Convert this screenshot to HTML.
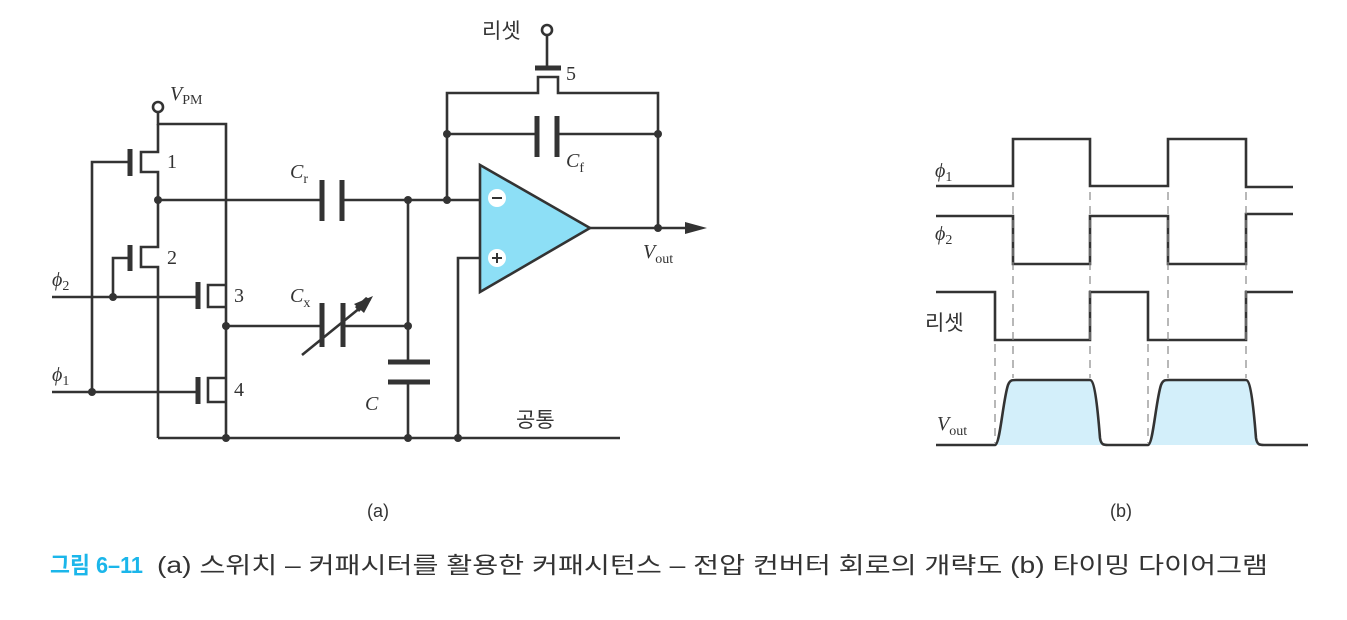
<!DOCTYPE html>
<html><head><meta charset="utf-8"><style>
html,body{margin:0;padding:0;background:#fff;width:1347px;height:620px;overflow:hidden}
svg{display:block}
.s{font-family:"Liberation Serif",serif;fill:#333}
.k{font-family:"Liberation Sans","Noto Sans CJK KR",sans-serif;fill:#333}
</style></head><body>
<svg width="1347" height="620" viewBox="0 0 1347 620" xmlns="http://www.w3.org/2000/svg">
<g stroke="#333" stroke-width="2.6" fill="none" stroke-linejoin="miter">
<circle cx="158" cy="107" r="5" fill="#fff"/>
<polyline points="158,112 158,124 226,124 226,438"/>
<polyline points="158,124 158,152 141,152 141,172 158,172 158,247 141,247 141,267 158,267 158,438"/>
<line x1="130" y1="149" x2="130" y2="176" stroke-width="5"/>
<polyline points="130,162 92,162 92,392"/>
<line x1="130" y1="245" x2="130" y2="271" stroke-width="5"/>
<polyline points="130,258 113,258 113,297"/>
<polyline points="226,285 208,285 208,307 226,307"/>
<line x1="198" y1="282" x2="198" y2="309" stroke-width="5"/>
<line x1="52" y1="297" x2="198" y2="297"/>
<polyline points="226,378 208,378 208,402 226,402"/>
<line x1="198" y1="377" x2="198" y2="404" stroke-width="5"/>
<line x1="52" y1="392" x2="198" y2="392"/>
<line x1="158" y1="200" x2="321" y2="200"/>
<line x1="342" y1="200" x2="480" y2="200"/>
<line x1="322" y1="180" x2="322" y2="221" stroke-width="5"/>
<line x1="342" y1="180" x2="342" y2="221" stroke-width="5"/>
<line x1="226" y1="326" x2="322" y2="326"/>
<line x1="343" y1="326" x2="408" y2="326"/>
<line x1="322" y1="303" x2="322" y2="347" stroke-width="5"/>
<line x1="343" y1="303" x2="343" y2="347" stroke-width="5"/>
<line x1="302" y1="355" x2="366" y2="303"/>
<line x1="408" y1="200" x2="408" y2="361"/>
<line x1="408" y1="382" x2="408" y2="438"/>
<line x1="388" y1="362" x2="430" y2="362" stroke-width="5"/>
<line x1="388" y1="382" x2="430" y2="382" stroke-width="5"/>
<line x1="158" y1="438" x2="620" y2="438"/>
<polyline points="458,438 458,258 480,258"/>
<polyline points="447,200 447,93 538,93 538,77 558,77 558,93 658,93 658,228"/>
<line x1="535" y1="68" x2="561" y2="68" stroke-width="5"/>
<line x1="547" y1="35" x2="547" y2="66"/>
<circle cx="547" cy="30" r="5" fill="#fff"/>
<line x1="447" y1="134" x2="537" y2="134"/>
<line x1="558" y1="134" x2="658" y2="134"/>
<line x1="537" y1="116" x2="537" y2="157" stroke-width="5"/>
<line x1="557" y1="116" x2="557" y2="157" stroke-width="5"/>
<line x1="590" y1="228" x2="690" y2="228"/>
<polyline points="936,186 1013,186 1013,139 1090,139 1090,186 1168,186 1168,139 1246,139 1246,187 1293,187"/>
<polyline points="936,216 1013,216 1013,264 1090,264 1090,216 1168,216 1168,264 1246,264 1246,214 1293,214"/>
<polyline points="936,292 995,292 995,340 1090,340 1090,292 1148,292 1148,340 1246,340 1246,292 1293,292"/>
</g>
<polygon points="366,297 371,300 359,312 355,307" fill="#333"/>
<polygon points="373,296 354,304 364,313" fill="#333"/>
<polygon points="685,222 707,228 685,234" fill="#333"/>
<polygon points="480,165 590,228 480,292" fill="#8ddff6" stroke="#333" stroke-width="2.6"/>
<circle cx="497" cy="198" r="9" fill="#fff"/>
<line x1="492" y1="198" x2="502" y2="198" stroke="#333" stroke-width="2"/>
<circle cx="497" cy="258" r="9" fill="#fff"/>
<line x1="492" y1="258" x2="502" y2="258" stroke="#333" stroke-width="2"/>
<line x1="497" y1="253" x2="497" y2="263" stroke="#333" stroke-width="2"/>
<g fill="#333">
<circle cx="158" cy="200" r="4"/><circle cx="113" cy="297" r="4"/><circle cx="92" cy="392" r="4"/>
<circle cx="226" cy="326" r="4"/><circle cx="408" cy="326" r="4"/><circle cx="408" cy="200" r="4"/>
<circle cx="447" cy="200" r="4"/><circle cx="447" cy="134" r="4"/><circle cx="658" cy="134" r="4"/>
<circle cx="658" cy="228" r="4"/><circle cx="226" cy="438" r="4"/><circle cx="408" cy="438" r="4"/><circle cx="458" cy="438" r="4"/>
</g>
<path d="M995,445 C1000,445 1003,400 1008,385 C1010,380 1012,380 1016,380 L1090,380 C1094,380 1097,400 1100,438 C1101,445 1104,445 1108,445 L1148,445 C1153,445 1156,400 1161,385 C1163,380 1165,380 1169,380 L1246,380 C1250,380 1253,400 1256,438 C1257,445 1260,445 1264,445 Z" fill="#d3effa"/>
<path d="M936,445 L995,445 C1000,445 1003,400 1008,385 C1010,380 1012,380 1016,380 L1090,380 C1094,380 1097,400 1100,438 C1101,445 1104,445 1108,445 L1148,445 C1153,445 1156,400 1161,385 C1163,380 1165,380 1169,380 L1246,380 C1250,380 1253,400 1256,438 C1257,445 1260,445 1264,445 L1308,445" fill="none" stroke="#333" stroke-width="2.6"/>
<g stroke="#888" stroke-width="1.2" stroke-dasharray="8,6" fill="none">
<line x1="1013" y1="192" x2="1013" y2="378"/><line x1="1090" y1="192" x2="1090" y2="378"/>
<line x1="1168" y1="192" x2="1168" y2="378"/><line x1="1246" y1="192" x2="1246" y2="378"/>
<line x1="995" y1="344" x2="995" y2="443"/><line x1="1148" y1="344" x2="1148" y2="443"/>
</g>
<g class="s" font-size="20">
<text x="170" y="100" font-style="italic">V<tspan font-style="normal" font-size="14" dy="4">PM</tspan></text>
<text x="167" y="168">1</text><text x="167" y="264">2</text><text x="234" y="302">3</text><text x="234" y="396">4</text>
<text x="290" y="178" font-style="italic">C<tspan font-style="normal" font-size="14" dy="5">r</tspan></text>
<text x="290" y="302" font-style="italic">C<tspan font-style="normal" font-size="14" dy="5">x</tspan></text>
<text x="365" y="410" font-style="italic">C</text>
<text x="566" y="80">5</text>
<text x="566" y="167" font-style="italic">C<tspan font-style="normal" font-size="14" dy="5">f</tspan></text>
<text x="643" y="258" font-style="italic">V<tspan font-style="normal" font-size="14" dy="5">out</tspan></text>
<text x="52" y="286" font-style="italic">ϕ<tspan font-style="normal" font-size="14" dy="4">2</tspan></text>
<text x="52" y="381" font-style="italic">ϕ<tspan font-style="normal" font-size="14" dy="4">1</tspan></text>
<text x="935" y="177" font-style="italic">ϕ<tspan font-style="normal" font-size="14" dy="4">1</tspan></text>
<text x="935" y="240" font-style="italic">ϕ<tspan font-style="normal" font-size="14" dy="4">2</tspan></text>
<text x="937" y="430" font-style="italic">V<tspan font-style="normal" font-size="14" dy="5">out</tspan></text>
</g>
<g class="k" font-size="21">
<text x="482" y="38">리셋</text>
<text x="925" y="330">리셋</text>
<text x="516" y="427">공통</text>
<text x="367" y="517" font-size="18">(a)</text>
<text x="1110" y="517" font-size="18">(b)</text>
<text x="50" y="573" font-size="23" fill="#1bb6ea" font-weight="bold" textLength="93" lengthAdjust="spacingAndGlyphs">그림 6–11</text>
<text x="157" y="573" font-size="23" textLength="1111" lengthAdjust="spacingAndGlyphs">(a) 스위치 – 커패시터를 활용한 커패시턴스 – 전압 컨버터 회로의 개략도 (b) 타이밍 다이어그램</text>
</g>
</svg>
</body></html>
